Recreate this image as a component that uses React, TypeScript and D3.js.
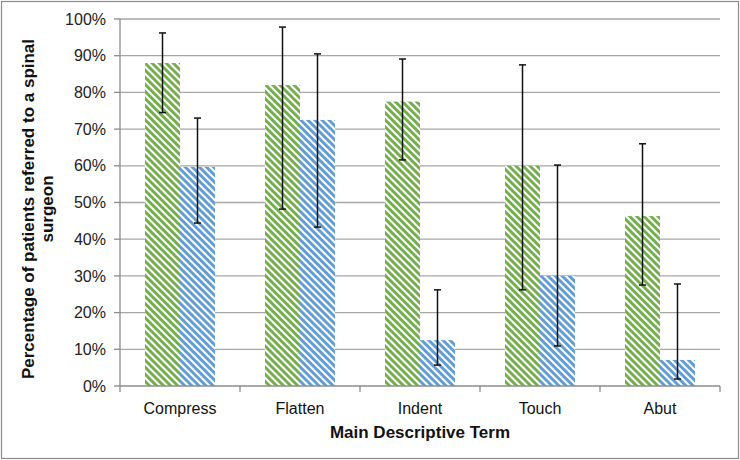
import React, { useMemo } from "react";
import * as d3 from "d3";

const WIDTH = 740;
const HEIGHT = 460;
const MARGIN = { top: 19, right: 20, bottom: 74, left: 120 };

const categories = ["Compress", "Flatten", "Indent", "Touch", "Abut"];
const series = ["green", "blue"];

// percentages
const greenValues = [88.0, 82.0, 77.5, 60.0, 46.3];
const greenLow = [74.5, 48.2, 61.6, 26.2, 27.5];
const greenHigh = [96.2, 97.8, 89.1, 87.5, 66.0];

const blueValues = [59.7, 72.5, 12.5, 30.0, 7.1];
const blueLow = [44.4, 43.3, 5.7, 10.9, 1.9];
const blueHigh = [73.0, 90.5, 26.2, 60.2, 27.8];

const yTicks = [0, 10, 20, 30, 40, 50, 60, 70, 80, 90, 100];

const COLORS: Record<string, string> = { green: "#72AC4A", blue: "#5E9BD3" };
const FONT = "'Liberation Sans', Arial, sans-serif";

export default function App() {
  const boundsWidth = WIDTH - MARGIN.left - MARGIN.right;
  const boundsHeight = HEIGHT - MARGIN.top - MARGIN.bottom;

  const xScale = useMemo(
    () => d3.scaleBand().domain(categories).range([0, boundsWidth]),
    [boundsWidth]
  );
  const barWidth = 35;
  const xSub = useMemo(
    () =>
      d3
        .scaleBand()
        .domain(series)
        .range([
          xScale.bandwidth() / 2 - barWidth,
          xScale.bandwidth() / 2 + barWidth,
        ]),
    [xScale]
  );
  const yScale = useMemo(
    () => d3.scaleLinear().domain([0, 100]).range([boundsHeight, 0]),
    [boundsHeight]
  );

  const data = categories.map((c, i) => ({
    category: c,
    bars: [
      { key: "green", value: greenValues[i], low: greenLow[i], high: greenHigh[i] },
      { key: "blue", value: blueValues[i], low: blueLow[i], high: blueHigh[i] },
    ],
  }));

  return (
    <svg
      width={WIDTH}
      height={HEIGHT}
      style={{ position: "absolute", left: 0, top: 0, background: "#fff" }}
      fontFamily={FONT}
    >
      <defs>
        {series.map((s) => (
          <pattern
            key={s}
            id={"hatch-" + s}
            patternUnits="userSpaceOnUse"
            width={5}
            height={5}
            patternTransform="rotate(-45)"
          >
            <rect width={5} height={5} fill="#fff" />
            <line x1={1.5} y1={0} x2={1.5} y2={5} stroke={COLORS[s]} strokeWidth={2.9} />
          </pattern>
        ))}
      </defs>

      <rect x={1.5} y={1.5} width={WIDTH - 3} height={HEIGHT - 3} fill="#fff" stroke="#8c8c8c" strokeWidth={1.2} />

      <g transform={`translate(${MARGIN.left},${MARGIN.top})`}>
        {/* gridlines and y ticks */}
        {yTicks.map((t) => (
          <g key={t} transform={`translate(0,${yScale(t)})`}>
            {t > 0 && <line x1={0} x2={boundsWidth} stroke="#a6a6a6" strokeWidth={1.3} />}
            <line x1={-6} x2={0} stroke="#8c8c8c" strokeWidth={1.3} />
            <text x={-14} dy="0.35em" textAnchor="end" fontSize={16} fill="#222">
              {t + "%"}
            </text>
          </g>
        ))}

        {/* bars */}
        {data.map((d) => (
          <g key={d.category} transform={`translate(${xScale(d.category)},0)`}>
            {d.bars.map((b) => (
              <rect
                key={b.key}
                x={xSub(b.key)}
                width={xSub.bandwidth()}
                y={yScale(b.value)}
                height={boundsHeight - yScale(b.value)}
                fill={`url(#hatch-${b.key})`}
              />
            ))}
          </g>
        ))}

        {/* axes */}
        <line x1={0} x2={0} y1={0} y2={boundsHeight} stroke="#8c8c8c" strokeWidth={1.3} />
        <line x1={0} x2={boundsWidth} y1={boundsHeight} y2={boundsHeight} stroke="#8c8c8c" strokeWidth={1.3} />
        {categories.concat(["end"]).map((c, i) => (
          <line
            key={c}
            x1={i * xScale.step()}
            x2={i * xScale.step()}
            y1={boundsHeight}
            y2={boundsHeight + 6}
            stroke="#8c8c8c"
            strokeWidth={1.3}
          />
        ))}
        {categories.map((c) => (
          <text
            key={c}
            x={(xScale(c) as number) + xScale.bandwidth() / 2}
            y={boundsHeight + 22}
            dy="0.35em"
            textAnchor="middle"
            fontSize={16}
            fill="#111"
          >
            {c}
          </text>
        ))}

        {/* error bars */}
        {data.map((d) =>
          d.bars.map((b) => {
            const cx = (xScale(d.category) as number) + (xSub(b.key) as number) + xSub.bandwidth() / 2;
            return (
              <g key={d.category + b.key} stroke="#111" strokeWidth={1.5}>
                <line x1={cx} x2={cx} y1={yScale(b.high)} y2={yScale(b.low)} />
                <line x1={cx - 3.5} x2={cx + 3.5} y1={yScale(b.high)} y2={yScale(b.high)} />
                <line x1={cx - 3.5} x2={cx + 3.5} y1={yScale(b.low)} y2={yScale(b.low)} />
              </g>
            );
          })
        )}

        {/* axis titles */}
        <text
          x={boundsWidth / 2}
          y={boundsHeight + 46}
          dy="0.35em"
          textAnchor="middle"
          fontSize={17}
          fontWeight="bold"
          fill="#111"
        >
          Main Descriptive Term
        </text>
        <text
          transform={`translate(${28 - MARGIN.left},${209 - MARGIN.top}) rotate(-90)`}
          textAnchor="middle"
          fontSize={17}
          fontWeight="bold"
          fill="#111"
        >
          <tspan x={0} dy="0.35em">Percentage of patients referred to a spinal</tspan>
          <tspan x={0} dy="1.13em">surgeon</tspan>
        </text>
      </g>
    </svg>
  );
}
